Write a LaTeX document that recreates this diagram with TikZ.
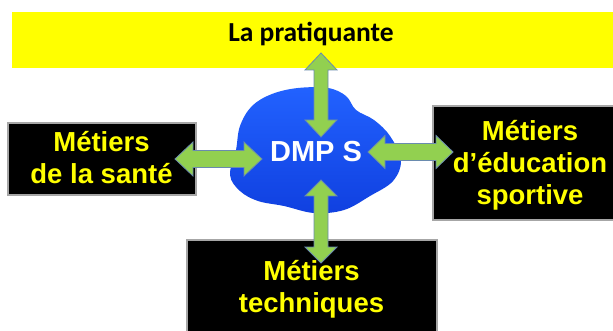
\documentclass[tikz,border=0pt]{standalone}
\usepackage{fontspec}
\setmainfont{Liberation Sans}
\newfontfamily\calibfont{Carlito}
\usetikzlibrary{calc}
\definecolor{arrgreen}{HTML}{92D050}
\definecolor{arredge}{HTML}{6A8BAE}
\definecolor{cloudtop}{HTML}{2262FF}
\definecolor{cloudbot}{HTML}{1040E0}
\definecolor{bandyellow}{HTML}{FFFF00}
\definecolor{boxtext}{HTML}{FFFF00}
% #1 tip A, #2 tip B, #3 head length, #4 head half width, #5 shaft half width
\newcommand\blockarr[5]{%
  \path[arrowbody] (#1)
   -- ($(#1)!#3!(#2)!#4!90:(#2)$)
   -- ($(#1)!#3!(#2)!#5!90:(#2)$)
   -- ($(#2)!#3!(#1)!#5!-90:(#1)$)
   -- ($(#2)!#3!(#1)!#4!-90:(#1)$)
   -- (#2)
   -- ($(#2)!#3!(#1)!#4!90:(#1)$)
   -- ($(#2)!#3!(#1)!#5!90:(#1)$)
   -- ($(#1)!#3!(#2)!#5!-90:(#2)$)
   -- ($(#1)!#3!(#2)!#4!-90:(#2)$)
   -- cycle;}
\begin{document}
\begin{tikzpicture}[x=1pt,y=-1pt,
  arrowbody/.style={fill=arrgreen,draw=arredge,line width=0.8pt,line join=miter},
  blackbox/.style={rectangle,fill=black,draw=gray!70,line width=1.2pt,inner sep=0pt},
  boxlabel/.style={text=boxtext,font=\bfseries\fontsize{27.5}{32}\selectfont,align=center,inner sep=0pt},
  bandbox/.style={rectangle,fill=bandyellow,inner sep=0pt}]
\useasboundingbox (0,0) rectangle (613,331);
\fill[white] (0,0) rectangle (613,331);
% yellow band
\node[bandbox,minimum width=608pt,minimum height=56pt] (band) at (316,40) {};
\node[anchor=base,inner sep=0pt,font=\calibfont\bfseries\fontsize{27.5}{30}\selectfont] (prat) at (311,42) {La pratiquante};
% boxes
\node[blackbox,minimum width=188pt,minimum height=72pt] (lbox) at (102,159) {};
\node[boxlabel] (ltext) at (101.5,157.5) {Métiers\\de la santé};
\node[blackbox,minimum width=187pt,minimum height=114pt] (rbox) at (526.5,163) {};
\node[boxlabel] (rtext) at (530,165) {Métiers\\d’éducation\\sportive};
\node[blackbox,minimum width=250pt,minimum height=105pt] (bbox) at (312,292.5) {};
\node[boxlabel] (btext) at (311.5,289) {Métiers\\techniques};
% cloud
\shade[top color=cloudtop,bottom color=cloudbot]
  plot[smooth cycle,tension=0.6] coordinates {
  (272,94) (298,88) (328,88) (346,96) (356,110) (374,120) (390,136)
  (401,160) (393,181) (370,196) (344,210) (314,213) (284,206) (258,201)
  (240,191) (230,175) (236,150) (240,126) (252,106)};
\node[anchor=base,inner sep=0pt,text=white,font=\bfseries\fontsize{29}{33}\selectfont] (dmp) at (316,162) {DMP S};
% arrow tips
\coordinate (topA) at (321,53);
\coordinate (topB) at (321,137);
\coordinate (botA) at (321,180);
\coordinate (botB) at (321,263);
\coordinate (lefA) at (175,159);
\coordinate (lefB) at (262,159);
\coordinate (rigA) at (368,152);
\coordinate (rigB) at (453,152);
\blockarr{topA}{topB}{17pt}{16pt}{7pt}
\blockarr{botA}{botB}{16pt}{16pt}{7pt}
\blockarr{lefA}{lefB}{18pt}{17pt}{8.5pt}
\blockarr{rigA}{rigB}{17pt}{16.5pt}{8.5pt}
\end{tikzpicture}
\end{document}
